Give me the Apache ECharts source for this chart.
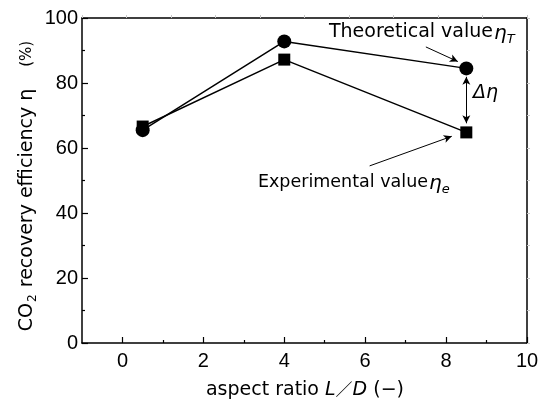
<!DOCTYPE html>
<html>
<head>
<meta charset="utf-8">
<script src="https://cdn.jsdelivr.net/npm/echarts@6/dist/echarts.min.js"></script>
<style>
  html, body { margin: 0; padding: 0; background: #fff; }
  #chart { width: 547px; height: 401px; }
</style>
</head>
<body>
<div id="chart"></div>
<script>
// Aspect ratio L/D of the tested columns
const aspectRatio = [0.5, 4, 8.5];
// CO2 recovery efficiency (%)
const theoretical = [65.5, 92.8, 84.5];
const experimental = [66.6, 87.2, 64.8];
// Tick labels
const xMajor = [0, 2, 4, 6, 8, 10];
const xMinor = [1, 3, 5, 7, 9];

const pairs = (xs, ys) => xs.map((x, i) => [x, ys[i]]);

const TXT = 'DejaVu Sans';
const NUM = 'Liberation Sans, Arial, sans-serif';

const chart = echarts.init(document.getElementById('chart'), null, { renderer: 'canvas' });

const frame = { show: true, onZero: false, lineStyle: { color: '#000', width: 1.5 } };

chart.setOption({
  animation: false,
  backgroundColor: '#fff',
  grid: { left: 82, right: 20, top: 18, bottom: 58 },
  xAxis: [
    {
      type: 'value', min: -1, max: 10, position: 'bottom',
      axisLine: frame,
      axisTick: { show: true, inside: true, length: 6, customValues: xMajor,
                  lineStyle: { color: '#000', width: 1.2 } },
      axisLabel: { customValues: xMajor, margin: 8, color: '#000',
                   fontFamily: NUM, fontSize: 20 },
      splitLine: { show: false }
    },
    {
      type: 'value', min: -1, max: 10, position: 'bottom', offset: 0,
      axisLine: { show: false },
      axisTick: { show: true, inside: true, length: 3, customValues: xMinor,
                  lineStyle: { color: '#000', width: 1.2 } },
      axisLabel: { show: false },
      splitLine: { show: false }
    },
    {
      type: 'value', min: 0, max: 10, interval: 1, position: 'top',
      axisLine: frame,
      axisTick: { show: true, inside: false, length: 3, lineStyle: { color: '#c8c8c8', width: 1 } },
      axisLabel: { show: false },
      splitLine: { show: false }
    }
  ],
  yAxis: [
    {
      type: 'value', min: 0, max: 100, interval: 20, position: 'left',
      axisLine: frame,
      axisTick: { show: true, inside: true, length: 6, lineStyle: { color: '#000', width: 1.2 } },
      minorTick: { show: true, splitNumber: 2, length: 3, lineStyle: { color: '#000', width: 1.2 } },
      axisLabel: { margin: 4, color: '#000', fontFamily: NUM, fontSize: 20 },
      splitLine: { show: false }
    },
    {
      type: 'value', min: 0, max: 100, interval: 10, position: 'right',
      axisLine: frame,
      axisTick: { show: true, inside: false, length: 3, lineStyle: { color: '#c8c8c8', width: 1 } },
      axisLabel: { show: false },
      splitLine: { show: false }
    }
  ],
  series: [
    {
      name: 'Theoretical value',
      type: 'line',
      data: pairs(aspectRatio, theoretical),
      symbol: 'circle', symbolSize: 14,
      lineStyle: { color: '#000', width: 1.5 },
      itemStyle: { color: '#000' },
      z: 3,
      markLine: {
        silent: true,
        symbolSize: [6, 8],
        label: { show: false },
        lineStyle: { color: '#000', width: 1, type: 'solid' },
        data: [
          [{ coord: [7.5, 91.1], symbol: 'none' }, { coord: [8.29, 86.6], symbol: 'arrow' }],
          [{ coord: [6.11, 54.5], symbol: 'none' }, { coord: [8.14, 63.6], symbol: 'arrow' }],
          [{ coord: [8.5, 81.9], symbol: 'arrow' }, { coord: [8.5, 67.6], symbol: 'arrow' }]
        ]
      }
    },
    {
      name: 'Experimental value',
      type: 'line',
      data: pairs(aspectRatio, experimental),
      symbol: 'rect', symbolSize: 12,
      lineStyle: { color: '#000', width: 1.5 },
      itemStyle: { color: '#000' },
      z: 3
    }
  ],
  graphic: [
    // y-axis title
    {
      type: 'text', x: 27, y: 186, rotation: Math.PI / 2,
      style: {
        text: '{a|CO}{s|2}{a| recovery efficiency η}{p|(%)}',
        textAlign: 'center', textVerticalAlign: 'middle', fill: '#000',
        rich: {
          a: { fontFamily: TXT, fontSize: 19, lineHeight: 24, verticalAlign: 'middle' },
          s: { fontFamily: TXT, fontSize: 12, lineHeight: 12, verticalAlign: 'bottom', padding: [10, 1, 0, 1] },
          p: { fontFamily: TXT, fontSize: 15, lineHeight: 24, padding: [0, 0, 0, 22] }
        }
      }
    },
    // x-axis title
    {
      type: 'text', x: 305, y: 390,
      style: {
        text: '{a|aspect ratio }{i|L}{sl|／}{i|D}{a| (−)}',
        textAlign: 'center', textVerticalAlign: 'middle', fill: '#000',
        rich: {
          a: { fontFamily: TXT, fontSize: 19 },
          i: { fontFamily: TXT, fontSize: 19, fontStyle: 'italic' },
          sl: { fontFamily: 'Noto Sans CJK JP', fontSize: 17 }
        }
      }
    },
    // annotations
    {
      type: 'text', x: 493, y: 32,
      style: { text: 'Theoretical value', textAlign: 'right', textVerticalAlign: 'middle',
               fill: '#000', fontFamily: TXT, fontSize: 19 }
    },
    {
      type: 'text', x: 494, y: 34,
      style: {
        text: '{e|η}{t|T}', textAlign: 'left', textVerticalAlign: 'middle', fill: '#000',
        rich: {
          e: { fontFamily: TXT, fontSize: 20, fontStyle: 'italic', lineHeight: 24 },
          t: { fontFamily: TXT, fontSize: 13, fontStyle: 'italic', lineHeight: 13, verticalAlign: 'bottom', padding: [6, 0, 0, 0] }
        }
      }
    },
    {
      type: 'text', x: 428, y: 182,
      style: { text: 'Experimental value', textAlign: 'right', textVerticalAlign: 'middle',
               fill: '#000', fontFamily: TXT, fontSize: 17.5 }
    },
    {
      type: 'text', x: 429, y: 184,
      style: {
        text: '{e|η}{t|e}', textAlign: 'left', textVerticalAlign: 'middle', fill: '#000',
        rich: {
          e: { fontFamily: TXT, fontSize: 20, fontStyle: 'italic', lineHeight: 24 },
          t: { fontFamily: TXT, fontSize: 13, fontStyle: 'italic', lineHeight: 13, verticalAlign: 'bottom', padding: [6, 0, 0, 0] }
        }
      }
    },
    {
      type: 'text', x: 473, y: 93,
      style: { text: 'Δη', textAlign: 'left', textVerticalAlign: 'middle',
               fill: '#000', fontFamily: TXT, fontSize: 19, fontStyle: 'italic' }
    }
  ]
});
</script>
</body>
</html>
